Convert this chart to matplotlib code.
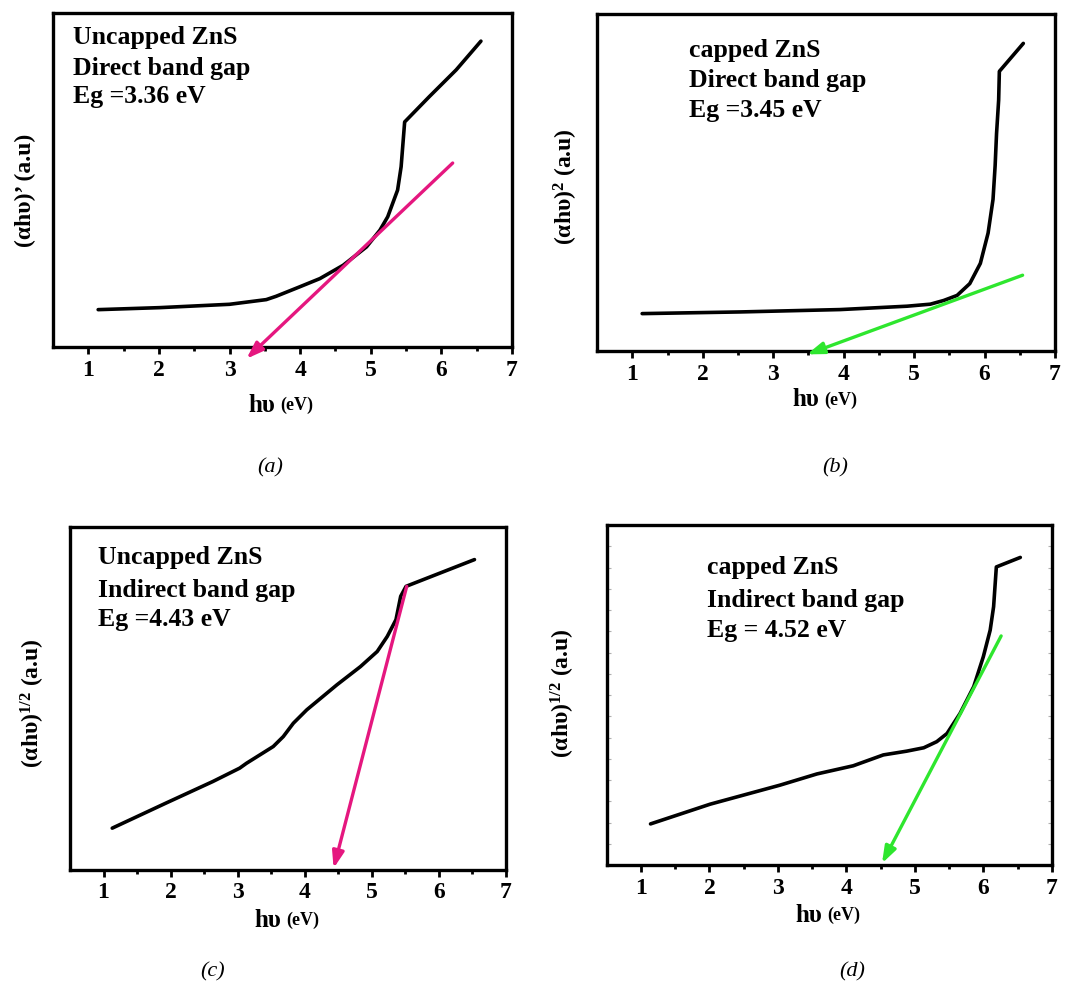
import numpy as np
import matplotlib.pyplot as plt

# Tauc plot data (y in arbitrary units, 0..1 of axis height)
# (a) uncapped ZnS, direct
a_x = [1.14, 2.01, 3.0, 3.52, 3.66, 3.99, 4.28, 4.61, 4.94, 5.13, 5.24, 5.38, 5.43, 5.48, 5.83, 6.21, 6.56]
a_y = [0.112, 0.118, 0.128, 0.142, 0.152, 0.18, 0.205, 0.245, 0.30, 0.35, 0.39, 0.47, 0.54, 0.674, 0.75, 0.83, 0.916]
a_fit = [(6.16, 0.551), (3.24, -0.035)]

# (b) capped ZnS, direct
b_x = [1.14, 2.54, 3.95, 4.90, 5.23, 5.42, 5.61, 5.79, 5.94, 6.05, 6.12, 6.15, 6.17, 6.20, 6.21, 6.55]
b_y = [0.111, 0.116, 0.123, 0.133, 0.139, 0.150, 0.165, 0.20, 0.26, 0.35, 0.45, 0.55, 0.645, 0.745, 0.83, 0.913]
b_fit = [(6.54, 0.225), (3.48, -0.01)]

# (c) uncapped ZnS, indirect
c_x = [1.13, 1.93, 2.63, 3.03, 3.13, 3.53, 3.68, 3.83, 4.03, 4.48, 4.83, 5.08, 5.23, 5.36, 5.43, 5.51, 6.53]
c_y = [0.122, 0.195, 0.258, 0.297, 0.311, 0.36, 0.389, 0.428, 0.467, 0.54, 0.593, 0.637, 0.681, 0.73, 0.798, 0.827, 0.905]
c_fit = [(5.52, 0.827), (4.43, 0.005)]

# (d) capped ZnS, indirect
d_x = [1.14, 2.01, 3.03, 3.57, 4.10, 4.54, 4.88, 5.13, 5.32, 5.47, 5.66, 5.86, 6.00, 6.10, 6.15, 6.19, 6.54]
d_y = [0.121, 0.179, 0.235, 0.268, 0.292, 0.324, 0.335, 0.345, 0.363, 0.387, 0.446, 0.525, 0.613, 0.691, 0.76, 0.877, 0.905]
d_fit = [(6.26, 0.674), (4.52, 0.005)]

magenta = "#e5177f"
green = "#2ee62e"

plt.rcParams["font.family"] = ["Liberation Serif", "DejaVu Serif"]
plt.rcParams["font.weight"] = "bold"
plt.rcParams["mathtext.fontset"] = "custom"
plt.rcParams["mathtext.rm"] = "Liberation Serif:bold"
plt.rcParams["mathtext.it"] = "Liberation Serif:bold"
plt.rcParams["mathtext.bf"] = "Liberation Serif:bold"

fig = plt.figure(figsize=(10.7, 9.91), dpi=100)

panels = [
    dict(rect=[0.0495, 0.6498, 0.429, 0.337], x=a_x, y=a_y, fit=a_fit, col=magenta,
         lines=["Uncapped ZnS", "Direct band gap", "Eg =3.36 eV"],
         tx=0.044, ty=[0.928, 0.835, 0.749],
         ylab="(αhυ)’ (a.u)", ylx=-0.036, yly=0.47, xly=-0.174,
         tag="(a)", tagpos=(270, 468), minor_y=False),
    dict(rect=[0.558, 0.6458, 0.428, 0.340], x=b_x, y=b_y, fit=b_fit, col=green,
         lines=["capped ZnS", "Direct band gap", "Eg =3.45 eV"],
         tx=0.2, ty=[0.893, 0.804, 0.713],
         ylab=r"(αhυ)$^{2}$ (a.u)", ylx=-0.038, yly=0.487, xly=-0.145,
         tag="(b)", tagpos=(835, 468), minor_y=False),
    dict(rect=[0.0654, 0.1221, 0.4075, 0.3461], x=c_x, y=c_y, fit=c_fit, col=magenta,
         lines=["Uncapped ZnS", "Indirect band gap", "Eg =4.43 eV"],
         tx=0.064, ty=[0.91, 0.816, 0.729],
         ylab=r"(αhυ)$^{1/2}$ (a.u)", ylx=-0.053, yly=0.487, xly=-0.146,
         tag="(c)", tagpos=(213, 972), minor_y=False),
    dict(rect=[0.567, 0.1271, 0.416, 0.343], x=d_x, y=d_y, fit=d_fit, col=green,
         lines=["capped ZnS", "Indirect band gap", "Eg = 4.52 eV"],
         tx=0.225, ty=[0.876, 0.779, 0.691],
         ylab=r"(αhυ)$^{1/2}$ (a.u)", ylx=-0.067, yly=0.506, xly=-0.147,
         tag="(d)", tagpos=(852, 972), minor_y=True),
]

for p in panels:
    ax = fig.add_axes(p["rect"])
    ax.plot(p["x"], p["y"], color="black", lw=2.6, solid_capstyle="round",
            solid_joinstyle="round")
    (x0, y0), (x1, y1) = p["fit"]
    ax.annotate("", xy=(x1, y1), xytext=(x0, y0), annotation_clip=False,
                arrowprops=dict(arrowstyle="-|>,head_length=1.0,head_width=0.35",
                                color=p["col"], lw=2.4, shrinkA=0, shrinkB=0))
    ax.set_xlim(0.5, 7)
    ax.set_ylim(0, 1)
    ax.set_xticks([1, 2, 3, 4, 5, 6, 7])
    ax.set_xticks(np.arange(1.5, 7, 1), minor=True)
    ax.tick_params(axis="x", which="major", length=5, width=2, direction="out",
                   labelsize=17, pad=4)
    ax.tick_params(axis="x", which="minor", length=3, width=2, direction="out")
    if p["minor_y"]:
        ax.set_yticks(np.arange(1, 16) / 16)
        ax.tick_params(axis="y", length=3, width=0.8, color="#b0b0b0", direction="in",
                       left=True, right=True, labelleft=False)
    else:
        ax.set_yticks([])
    for sp in ax.spines.values():
        sp.set_linewidth(2.4)
    for lbl in ax.get_xticklabels():
        lbl.set_fontweight("bold")

    for line, yy in zip(p["lines"], p["ty"]):
        ax.text(p["tx"], yy, line, transform=ax.transAxes, fontsize=18.5,
                fontweight="bold", va="center", ha="left")

    ax.set_ylabel(p["ylab"], fontsize=17, fontweight="bold")
    ax.yaxis.set_label_coords(p["ylx"], p["yly"])
    ax.text(0.485, p["xly"], "hυ", transform=ax.transAxes, fontsize=18,
            fontweight="bold", ha="right", va="center")
    ax.text(0.495, p["xly"], "(eV)", transform=ax.transAxes, fontsize=13,
            fontweight="bold", ha="left", va="center")

    tx_, ty_ = p["tagpos"]
    fig.text(tx_ / 1070, 1 - ty_ / 991, p["tag"], fontsize=16, fontstyle="italic",
             fontweight="normal", ha="center", va="center")

fig.savefig("out.png", dpi=100)
